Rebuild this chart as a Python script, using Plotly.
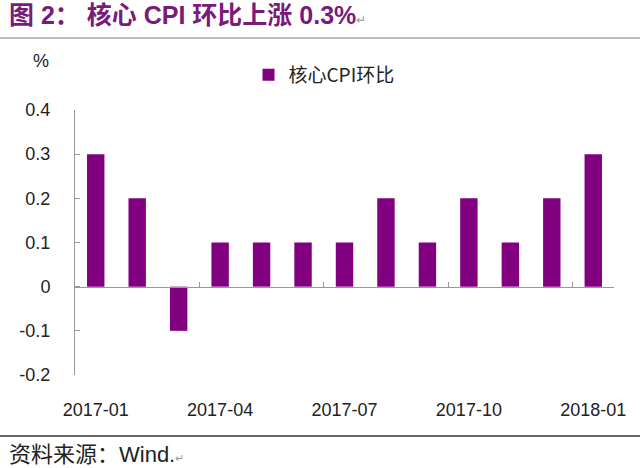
import plotly.graph_objects as go

months = ["2017-01", "2017-02", "2017-03", "2017-04", "2017-05", "2017-06", "2017-07",
          "2017-08", "2017-09", "2017-10", "2017-11", "2017-12", "2018-01"]
values = [0.3, 0.2, -0.1, 0.1, 0.1, 0.1, 0.1, 0.2, 0.1, 0.2, 0.1, 0.2, 0.3]
series_name = "核心CPI环比"
y_ticks = [0.4, 0.3, 0.2, 0.1, 0, -0.1, -0.2]
y_ticktext = ["0.4", "0.3", "0.2", "0.1", "0", "-0.1", "-0.2"]
x_label_months = months[::3]

W, H = 640, 468
ML, MR, MT, MB = 75, 26, 110, 93
PW, PH = W - ML - MR, H - MT - MB

def py(pix):  # pixel y -> paper y
    return 1 - (pix - MT) / PH

def px(pix):
    return (pix - ML) / PW

purple = "#800080"
font_fam = "Liberation Sans, Arial, Noto Sans CJK SC, sans-serif"
cjk_fam = "Noto Sans CJK SC, Liberation Sans, sans-serif"

fig = go.Figure()
fig.add_trace(go.Bar(x=months, y=values, name=series_name, marker=dict(color=purple, line=dict(width=0))))
idx = list(range(len(months)))
fig.add_trace(go.Scatter(x=idx, y=values, xaxis="x2", mode="markers",
                         marker=dict(opacity=0), showlegend=False, hoverinfo="skip"))

ymin, ymax = -0.2, 0.4
fig.update_layout(
    width=W, height=H,
    margin=dict(l=ML, r=MR, t=MT, b=MB, pad=0),
    paper_bgcolor="white", plot_bgcolor="white",
    bargap=0.58,
    showlegend=True,
    legend=dict(orientation="h", x=px(324), xanchor="center", y=py(75), yanchor="middle",
                font=dict(family=cjk_fam, size=19, color="#222"), itemwidth=30,
                bgcolor="rgba(0,0,0,0)"),
    title=dict(text="<b>图 2： 核心 CPI 环比上涨 0.3%</b><span style='font-size:12px;color:#999'>↵</span>",
               xref="container", yref="container", x=9 / W, y=1 - 15 / H,
               xanchor="left", yanchor="middle",
               font=dict(family=font_fam, size=25, color="#7a1a7a")),
    xaxis=dict(type="category", tickvals=x_label_months, ticktext=x_label_months,
               showline=False, ticks="", showgrid=False, zeroline=False,
               tickfont=dict(family=font_fam, size=18, color="#222"),
               ticklabelstandoff=22),
    xaxis2=dict(overlaying="x", anchor="free", position=(0 - ymin) / (ymax - ymin),
                range=[-0.5, len(months) - 0.5], type="linear",
                tickvals=[i - 0.5 for i in range(3, len(months), 3)],
                ticks="inside", ticklen=5, tickcolor="#999", showticklabels=False,
                showline=True, linecolor="#999", linewidth=1, showgrid=False, zeroline=False),
    yaxis=dict(range=[ymin, ymax], tickvals=y_ticks, ticktext=y_ticktext,
               showline=True, linecolor="#999", linewidth=1,
               ticks="inside", ticklen=5, tickcolor="#999",
               showgrid=False, zeroline=False,
               tickfont=dict(family=font_fam, size=18, color="#222"),
               ticklabelstandoff=20),
    shapes=[
        dict(type="line", xref="paper", yref="paper", x0=px(0), x1=px(W), y0=py(38), y1=py(38),
             line=dict(color="#aaa", width=1.5)),
        dict(type="line", xref="paper", yref="paper", x0=px(0), x1=px(W), y0=py(436), y1=py(436),
             line=dict(color="#333", width=1.5)),
    ],
    annotations=[
        dict(text="%", xref="paper", yref="paper", x=px(41), y=py(61), xanchor="center", yanchor="middle",
             showarrow=False, font=dict(family=font_fam, size=18, color="#222")),
        dict(text="资料来源：Wind.<span style='font-size:11px;color:#999'>↵</span>", xref="paper", yref="paper",
             x=px(7), y=py(454), xanchor="left", yanchor="middle",
             showarrow=False, font=dict(family=font_fam, size=22, color="#222")),
    ],
)

fig.write_html("out.html", config={"displayModeBar": False},
               post_script="document.body.style.margin='0';document.body.style.overflow='hidden';")
